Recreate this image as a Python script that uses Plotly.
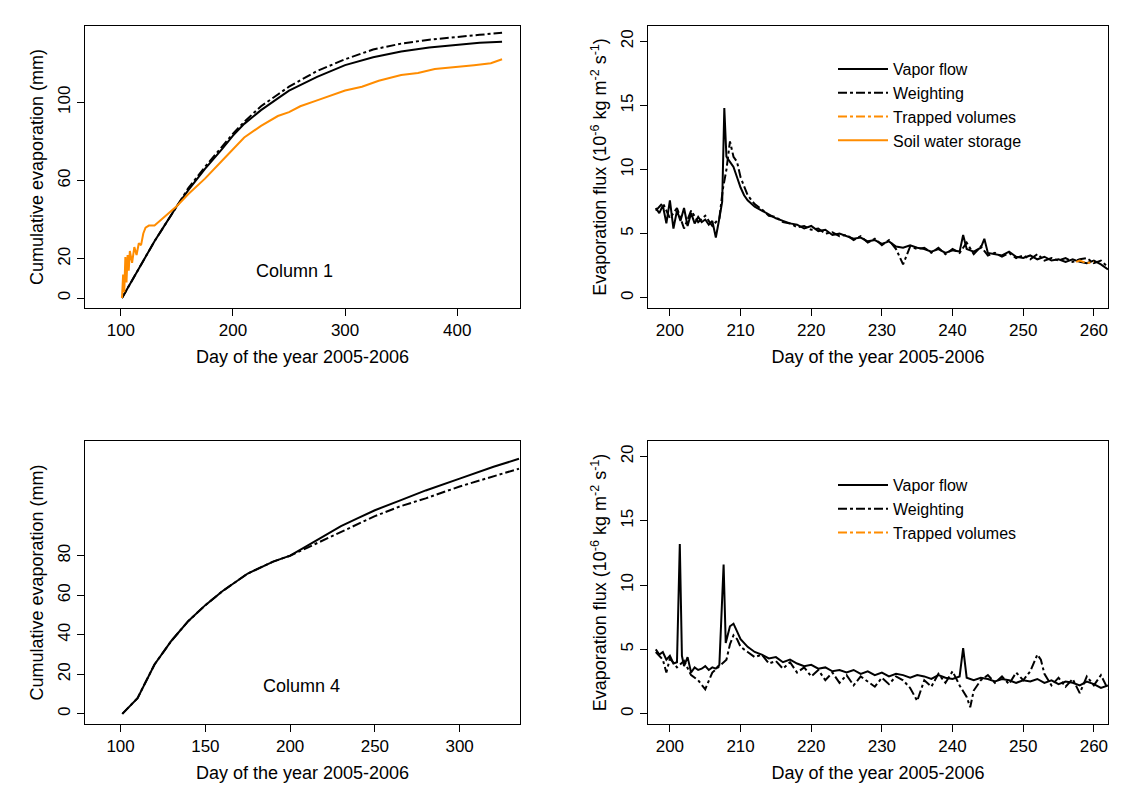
import plotly.graph_objects as go

# ---- top-left: cumulative evaporation, column 1 ----
c1_day = [101, 110, 120, 130, 140, 150, 160, 175, 190, 200, 210, 225, 240, 250, 275, 300, 325, 350, 375, 400, 420, 440]
c1_vapor = [0, 9, 19, 29, 38, 47, 55, 66, 76, 83, 89, 96, 102, 106, 113, 119, 123, 126, 128, 129.5, 130.5, 131]
c1_weight = [0, 9, 19, 29, 38, 47, 56, 67, 77, 84, 90, 98, 104, 108, 116, 122, 127, 130, 132, 133.5, 134.5, 135.5]
c1_soil_day = [101, 102, 103, 104, 105, 106, 107, 108, 110, 112, 114, 116, 118, 120, 122, 125, 130, 140, 150, 160, 175, 190,
               200, 210, 225, 240, 250, 260, 275, 290, 300, 315, 330, 350, 365, 380, 400, 415, 430, 440]
c1_soil = [0, 12, 3, 21, 8, 22, 14, 24, 18, 26, 22, 28, 27, 33, 36, 37, 37, 42, 47, 53, 61, 70,
           76, 82, 88, 93, 95, 98, 101, 104, 106, 108, 111, 114, 115, 117, 118, 119, 120, 122]

# ---- bottom-left: cumulative evaporation, column 4 ----
c4_day = [101, 110, 120, 130, 140, 150, 160, 175, 190, 200, 210, 220, 230, 240, 250, 265, 280, 300, 320, 335]
c4_vapor = [0, 8, 25, 37, 47, 55, 62, 71, 77, 80, 85, 90, 95, 99, 103, 108, 113, 119, 125, 129]
c4_weight = [0, 8, 25, 37, 47, 55, 62, 71, 77, 80, 84, 88, 92, 96, 100, 105, 109, 115, 120, 124]

# ---- top-right: evaporation flux, column 1 ----
tr_vf_day = [198, 198.5, 199, 199.5, 200, 200.5, 201, 201.5, 202, 202.5,
             203, 203.5, 204, 204.5, 205, 205.5, 206, 206.5, 207, 207.4,
             207.7, 208, 208.5, 209, 209.5, 210, 210.5, 211, 212, 213,
             214, 215, 216, 217, 218, 219, 220, 221, 222, 223,
             224, 225, 226, 227, 228, 229, 230, 231, 232, 233,
             234, 235, 236, 237, 238, 239, 240, 241, 241.5, 242,
             243, 244, 244.5, 245, 246, 247, 248, 249, 250, 251,
             252, 253, 254, 255, 256, 257, 258, 259, 260, 261, 262]
tr_vf = [7.0, 6.6, 7.2, 5.8, 7.6, 5.4, 6.8, 6.0, 7.0, 5.6,
         6.6, 5.8, 6.3, 5.9, 6.1, 5.7, 6.0, 4.7, 6.2, 7.5,
         14.8, 11.0, 10.6, 10.2, 9.4, 8.6, 8.0, 7.6, 7.1, 6.8,
         6.5, 6.2, 6.0, 5.8, 5.7, 5.4, 5.6, 5.2, 5.3, 4.9,
         5.0, 4.8, 4.6, 4.7, 4.4, 4.5, 4.2, 4.4, 4.0, 3.9,
         4.1, 3.9, 3.8, 3.6, 3.8, 3.5, 3.7, 3.6, 4.9, 3.8,
         3.6, 3.9, 4.6, 3.5, 3.4, 3.3, 3.6, 3.2, 3.1, 3.3,
         3.0, 3.2, 2.9, 3.0, 2.8, 3.0, 2.8, 2.7, 2.9, 2.6, 2.2]
tr_w_day = [198, 199, 200, 201, 202, 203, 204, 205, 206, 207,
            207.5, 208, 208.5, 209, 209.5, 210, 211, 212, 213, 214,
            215, 216, 217, 218, 219, 220, 221, 222, 223, 224,
            225, 226, 227, 228, 229, 230, 231, 232, 233, 234,
            235, 236, 237, 238, 239, 240, 241, 242, 243, 244,
            245, 246, 247, 248, 249, 250, 251, 252, 253, 254,
            255, 256, 257, 258, 259, 260, 261, 262]
tr_w = [6.8, 7.4, 6.2, 7.0, 5.4, 6.8, 5.9, 6.4, 5.6, 6.2,
        8.5, 10.0, 12.2, 11.0, 10.6, 9.4, 8.0, 7.3, 6.9, 6.4,
        6.3, 5.9, 5.8, 5.5, 5.6, 5.3, 5.4, 5.0, 5.1, 4.8,
        4.9, 4.5, 4.8, 4.3, 4.6, 4.1, 4.5, 3.8, 2.6, 4.0,
        3.8, 3.9, 3.5, 3.9, 3.4, 3.8, 3.5, 4.3, 3.4, 4.0,
        3.3, 3.5, 3.2, 3.5, 3.1, 3.3, 3.0, 3.4, 2.9, 3.1,
        2.9, 3.1, 2.8, 3.0, 3.1, 2.7, 2.9, 2.4]
tr_tv_day = [257.5, 258, 259, 260]
tr_tv = [2.8, 2.9, 2.7, 2.8]

# ---- bottom-right: evaporation flux, column 4 ----
br_vf_day = [198, 198.5, 199, 199.5, 200, 200.5, 201, 201.4, 201.7, 202,
             202.5, 203, 203.5, 204, 204.5, 205, 205.5, 206, 206.5, 207,
             207.6, 207.9, 208.5, 209, 209.5, 210, 211, 212, 213, 214,
             215, 216, 217, 218, 219, 220, 221, 222, 223, 224,
             225, 226, 227, 228, 229, 230, 231, 232, 233, 234,
             235, 236, 237, 238, 239, 240, 241, 241.5, 242, 243,
             244, 245, 246, 247, 248, 249, 250, 251, 252, 253,
             254, 255, 256, 257, 258, 259, 260, 261, 262]
br_vf = [5.0, 4.6, 4.8, 4.2, 4.5, 3.9, 4.0, 13.2, 4.5, 3.7,
         4.4, 3.2, 3.6, 3.4, 3.5, 3.7, 3.4, 3.6, 3.5, 3.8,
         11.6, 5.5, 6.8, 7.0, 6.4, 5.8, 5.2, 4.8, 4.6, 4.3,
         4.4, 4.0, 4.2, 3.9, 3.7, 3.8, 3.5, 3.6, 3.3, 3.4,
         3.2, 3.4, 3.1, 3.3, 3.0, 3.2, 2.9, 3.1, 3.0, 2.8,
         3.0, 2.9, 2.7, 3.0, 2.8, 2.7, 2.9, 5.1, 2.8, 2.6,
         2.8, 2.7, 2.5, 2.7, 2.6, 2.4, 2.6, 2.5, 2.7, 2.4,
         2.6, 2.3, 2.5, 2.4, 2.2, 2.5, 2.3, 2.0, 2.2]
br_w_day = [198, 199, 199.5, 200, 201, 202, 203, 204, 205, 206,
            207, 208, 208.5, 209, 209.5, 210, 211, 212, 213, 214,
            215, 216, 217, 218, 219, 220, 221, 222, 223, 224,
            225, 226, 227, 228, 229, 230, 231, 232, 233, 234,
            235, 236, 237, 238, 239, 240, 241, 242, 242.5, 243,
            244, 245, 246, 247, 248, 249, 250, 251, 252, 252.5,
            253, 254, 255, 256, 257, 258, 259, 260, 261, 262]
br_w = [4.8, 4.2, 3.2, 4.3, 3.6, 4.1, 3.0, 2.6, 1.9, 3.2,
        3.7, 4.2, 5.4, 6.1, 5.8, 5.2, 4.8, 4.4, 4.6, 3.9,
        4.1, 3.5, 4.0, 3.2, 3.6, 2.9, 3.4, 2.6, 3.2, 2.4,
        3.0, 2.2, 2.9, 2.5, 2.1, 2.8, 2.3, 2.9, 2.6, 2.0,
        1.0, 2.6, 2.1, 3.1, 2.4, 3.3, 2.2, 1.3, 0.5, 1.8,
        2.6, 3.0, 2.4, 2.9, 2.3, 3.2, 2.6, 3.3, 4.6, 4.2,
        3.1, 2.2, 2.8, 2.1, 2.7, 1.6, 2.9, 2.2, 3.0, 1.9]

BLACK = "black"
ORANGE = "#ff8c00"
FONT = "Liberation Sans, Arial, sans-serif"
flux_title = "Evaporation flux (10<sup>-6</sup> kg m<sup>-2</sup> s<sup>-1</sup>)"

fig = go.Figure()

def line(x, y, xa, ya, color, dash, name=None, legend=None):
    fig.add_trace(go.Scatter(
        x=x, y=y, xaxis=xa, yaxis=ya, mode="lines", name=name,
        line=dict(color=color, dash=dash, width=2),
        showlegend=name is not None, legend=legend
    ))

line(c1_day, c1_vapor, "x", "y", BLACK, "solid")
line(c1_day, c1_weight, "x", "y", BLACK, "dashdot")
line(c1_soil_day, c1_soil, "x", "y", ORANGE, "solid")

line(tr_w_day, tr_w, "x2", "y2", BLACK, "dashdot")
line(tr_vf_day, tr_vf, "x2", "y2", BLACK, "solid")
line(tr_tv_day, tr_tv, "x2", "y2", ORANGE, "dashdot")
# legend-only entries in legend order
line([None], [None], "x2", "y2", BLACK, "solid", "Vapor flow", "legend")
line([None], [None], "x2", "y2", BLACK, "dashdot", "Weighting", "legend")
line([None], [None], "x2", "y2", ORANGE, "dashdot", "Trapped volumes", "legend")
line([None], [None], "x2", "y2", ORANGE, "solid", "Soil water storage", "legend")

line(c4_day, c4_vapor, "x3", "y3", BLACK, "solid")
line(c4_day, c4_weight, "x3", "y3", BLACK, "dashdot")

line(br_w_day, br_w, "x4", "y4", BLACK, "dashdot")
line(br_vf_day, br_vf, "x4", "y4", BLACK, "solid")
line([None], [None], "x4", "y4", BLACK, "solid", "Vapor flow", "legend2")
line([None], [None], "x4", "y4", BLACK, "dashdot", "Weighting", "legend2")
line([None], [None], "x4", "y4", ORANGE, "dashdot", "Trapped volumes", "legend2")

ax = dict(showline=True, mirror=True, linecolor=BLACK, linewidth=1, ticks="outside",
          ticklen=7, tickcolor=BLACK, showgrid=False, zeroline=False,
          tickfont=dict(size=17, color=BLACK), title_font=dict(size=18, color=BLACK))
L = [77 / 1125, 512 / 1125]
R = [640 / 1125, 1100 / 1125]
T = [1 - 300 / 799, 1 - 18 / 799]
B = [1 - 716 / 799, 1 - 433 / 799]
RX = [196.9, 262.0]

fig.update_layout(
    width=1125, height=799, margin=dict(l=0, r=0, t=0, b=0),
    paper_bgcolor="white", plot_bgcolor="white",
    font=dict(family=FONT, color=BLACK),
    xaxis=dict(ax, domain=L, anchor="y", range=[68, 456], tickvals=[100, 200, 300, 400],
               title=dict(text="Day of the year 2005-2006", standoff=10)),
    yaxis=dict(ax, domain=T, anchor="x", range=[-5.1, 139], tickvals=[0, 20, 60, 100], tickangle=-90,
               title=dict(text="Cumulative evaporation (mm)", standoff=6)),
    xaxis2=dict(ax, domain=R, anchor="y2", range=RX, tickvals=[200, 210, 220, 230, 240, 250, 260],
                title=dict(text="Day of the year 2005-2006", standoff=10)),
    yaxis2=dict(ax, domain=T, anchor="x2", range=[-0.8, 21.2], tickvals=[0, 5, 10, 15, 20], tickangle=-90,
                title=dict(text=flux_title, standoff=6)),
    xaxis3=dict(ax, domain=L, anchor="y3", range=[79, 335.6], tickvals=[100, 150, 200, 250, 300],
                title=dict(text="Day of the year 2005-2006", standoff=10)),
    yaxis3=dict(ax, domain=B, anchor="x3", range=[-5.1, 138], tickvals=[0, 20, 40, 60, 80], tickangle=-90,
                title=dict(text="Cumulative evaporation (mm)", standoff=6)),
    xaxis4=dict(ax, domain=R, anchor="y4", range=RX, tickvals=[200, 210, 220, 230, 240, 250, 260],
                title=dict(text="Day of the year 2005-2006", standoff=10)),
    yaxis4=dict(ax, domain=B, anchor="x4", range=[-0.8, 21.2], tickvals=[0, 5, 10, 15, 20], tickangle=-90,
                title=dict(text=flux_title, standoff=6)),
    legend=dict(x=825 / 1125, y=1 - 44 / 799, xanchor="left", yanchor="top", bgcolor="rgba(0,0,0,0)",
                font=dict(size=16), tracegroupgap=0, itemwidth=50),
    legend2=dict(x=825 / 1125, y=1 - 460 / 799, xanchor="left", yanchor="top", bgcolor="rgba(0,0,0,0)",
                 font=dict(size=16), tracegroupgap=0, itemwidth=50),
    annotations=[
        dict(text="Column 1", x=255, y=14, xref="x", yref="y", showarrow=False, font=dict(size=18)),
        dict(text="Column 4", x=207, y=14, xref="x3", yref="y3", showarrow=False, font=dict(size=18)),
    ],
)

fig.write_html("out.html")
